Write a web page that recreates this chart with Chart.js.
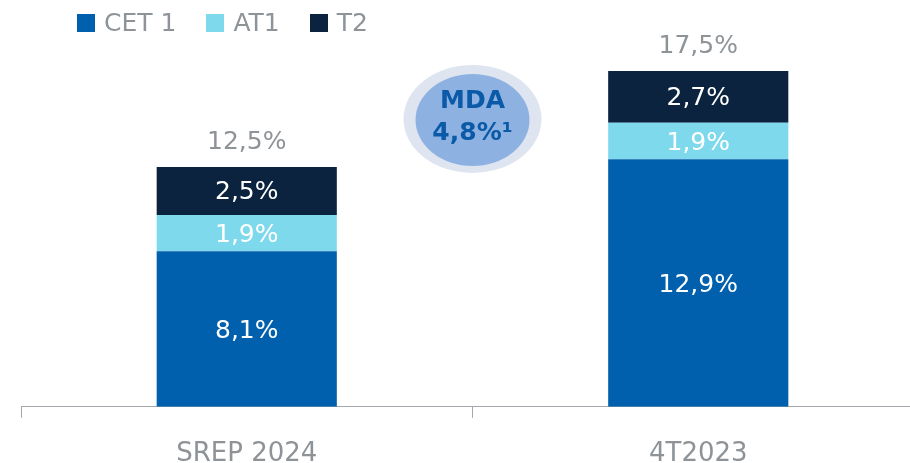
<!DOCTYPE html>
<html>
<head>
<meta charset="utf-8">
<script src="https://cdn.jsdelivr.net/npm/chart.js@4.4.1/dist/chart.umd.min.js"></script>
<style>
  html, body { margin: 0; padding: 0; background: #fff; }
  #frame { position: relative; width: 910px; height: 463px; overflow: hidden; }
  #capitalChart { position: absolute; left: 0; top: 0; }
  #legend { position: absolute; left: 77px; top: 8px; display: flex; font-family: "DejaVu Sans", sans-serif; font-size: 25px; color: #8e9398; }
  #legend span.item { display: flex; align-items: center; margin-right: 30px; }
  #legend i { display: inline-block; width: 18px; height: 18px; margin-right: 9px; }
</style>
</head>
<body>
<div id="frame">
  <canvas id="capitalChart" width="924" height="490"></canvas>
  <div id="legend"></div>
</div>
<script>
const categories = ["SREP 2024", "4T2023"];
const cet1Values = [8.1, 12.9];
const at1Values = [1.9, 1.9];
const t2Values = [2.5, 2.7];
const seriesNames = ["CET 1", "AT1", "T2"];
const seriesColors = ["#0060ad", "#7fd9ed", "#0c2340"];
const mdaTitle = "MDA";
const mdaValue = "4,8%\u00b9";
const mdaLevel = 15;

const textGray = "#8e9398";
const axisGray = "#a3a7ab";
const fontFamily = "'DejaVu Sans', sans-serif";

const formatPct = (v) => v.toFixed(1).replace(".", ",") + "%";

// legend row above the plot
const legendEl = document.getElementById("legend");
seriesNames.forEach((name, i) => {
  const item = document.createElement("span");
  item.className = "item";
  item.innerHTML = `<i style="background:${seriesColors[i]}"></i>${name}`;
  legendEl.appendChild(item);
});

// values inside each segment plus the stack total above it
const stackLabels = {
  id: "stackLabels",
  afterDatasetsDraw(chart) {
    const { ctx } = chart;
    ctx.save();
    ctx.textAlign = "center";
    ctx.textBaseline = "middle";
    ctx.font = `25px ${fontFamily}`;
    ctx.fillStyle = "#ffffff";
    chart.data.datasets.forEach((ds, di) => {
      chart.getDatasetMeta(di).data.forEach((bar, i) => {
        ctx.fillText(formatPct(ds.data[i]), bar.x, (bar.y + bar.base) / 2 + 2);
      });
    });
    const lastMeta = chart.getDatasetMeta(chart.data.datasets.length - 1);
    ctx.fillStyle = textGray;
    categories.forEach((c, i) => {
      const total = chart.data.datasets.reduce((s, ds) => s + ds.data[i], 0);
      ctx.fillText(formatPct(total), lastMeta.data[i].x, lastMeta.data[i].y - 24);
    });
    ctx.restore();
  }
};

// MDA bubble between the two stacks
const mdaBubble = {
  id: "mdaBubble",
  afterDraw(chart) {
    const { ctx, scales } = chart;
    const cx = (scales.x.getPixelForValue(0) + scales.x.getPixelForValue(1)) / 2;
    const cy = scales.y.getPixelForValue(mdaLevel);
    ctx.save();
    ctx.fillStyle = "#dee5f1";
    ctx.beginPath();
    ctx.ellipse(cx, cy, 69, 54, 0, 0, Math.PI * 2);
    ctx.fill();
    ctx.fillStyle = "#8db2e2";
    ctx.beginPath();
    ctx.ellipse(cx, cy + 1, 57, 46, 0, 0, Math.PI * 2);
    ctx.fill();
    ctx.fillStyle = "#0b5aa8";
    ctx.font = `bold 25px ${fontFamily}`;
    ctx.textAlign = "center";
    ctx.textBaseline = "middle";
    ctx.fillText(mdaTitle, cx, cy - 17);
    ctx.fillText(mdaValue, cx, cy + 15);
    ctx.restore();
  }
};

new Chart(document.getElementById("capitalChart"), {
  type: "bar",
  data: {
    labels: categories,
    datasets: [
      { label: seriesNames[0], data: cet1Values, backgroundColor: seriesColors[0] },
      { label: seriesNames[1], data: at1Values, backgroundColor: seriesColors[1] },
      { label: seriesNames[2], data: t2Values, backgroundColor: seriesColors[2] }
    ]
  },
  options: {
    responsive: false,
    animation: false,
    datasets: { bar: { barPercentage: 1, categoryPercentage: 0.399, borderWidth: 0 } },
    layout: { padding: { left: 21, right: 0, top: 0, bottom: 0 } },
    plugins: { legend: { display: false }, tooltip: { enabled: false } },
    scales: {
      x: {
        stacked: true,
        grid: { display: true, drawOnChartArea: false, drawTicks: true, tickLength: 11, color: axisGray, offset: true },
        border: { display: true, color: axisGray, width: 1 },
        ticks: { color: textGray, font: { family: fontFamily, size: 26 }, padding: 20.5, maxRotation: 0, autoSkip: false }
      },
      y: {
        stacked: true,
        display: false,
        min: 0,
        max: 21.2
      }
    }
  },
  plugins: [stackLabels, mdaBubble]
});
</script>
</body>
</html>
